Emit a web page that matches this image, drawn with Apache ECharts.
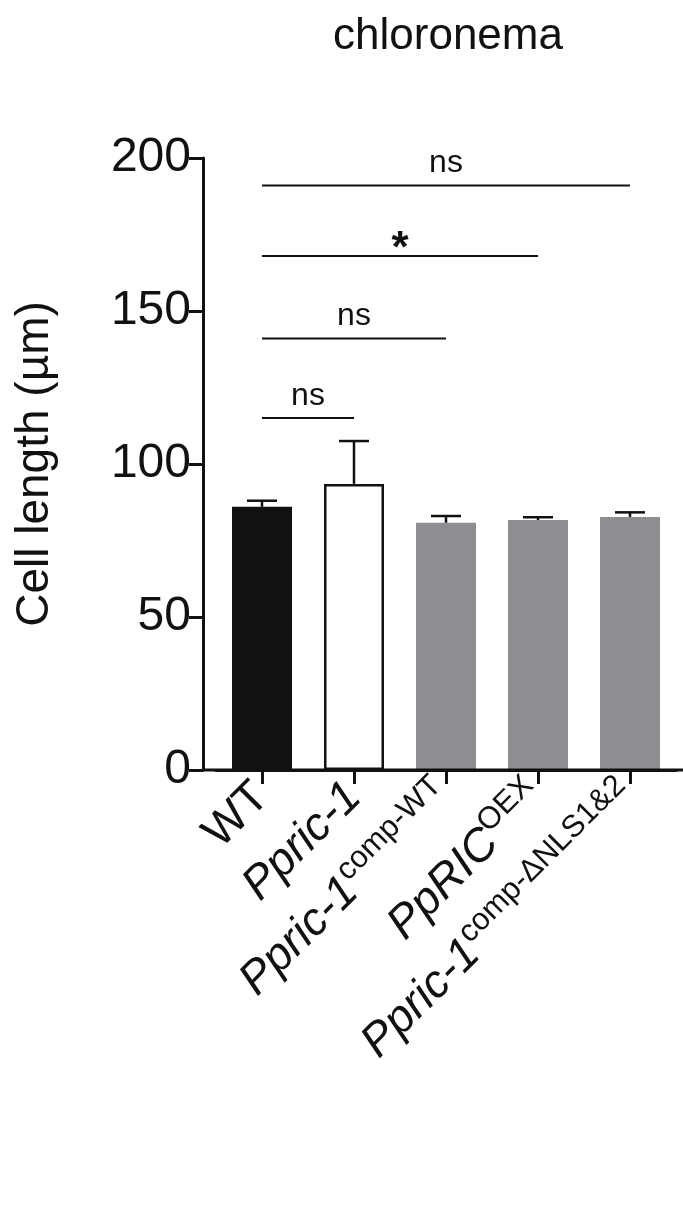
<!DOCTYPE html>
<html>
<head>
<meta charset="utf-8">
<script src="https://cdn.jsdelivr.net/npm/echarts@6/dist/echarts.min.js"></script>
<style>body{margin:0;background:#fff}#main{width:683px;height:1209px}</style>
</head>
<body>
<div id="main"></div>
<script>
var categories = ['WT', 'Ppric-1', 'Ppric-1 comp-WT', 'PpRIC OEX', 'Ppric-1 comp-ΔNLS1&2'];
var labelRich = ['WT', '{i|Ppric-1}', '{i|Ppric-1}{s|comp-WT}', '{i|PpRIC}{s|OEX}', '{i|Ppric-1}{s|comp-ΔNLS1&2}'];
var means = [86, 93.5, 80.8, 81.7, 82.7];
var errTop = [88, 107.5, 83, 82.6, 84.2];
var barColors = ['#111111', '#ffffff', '#8e8e92', '#8e8e92', '#8e8e92'];
// significance: [from index, to index, y value, text]
var sigs = [[0, 4, 191, 'ns'], [0, 3, 168, '*'], [0, 2, 141, 'ns'], [0, 1, 115, 'ns']];

var myChart = echarts.init(document.getElementById('main'));
var font = 'Liberation Sans, Arial, sans-serif';

var option = {
  animation: false,
  title: {text: 'chloronema', left: 443, top: 10, textAlign: 'center',
    textStyle: {fontFamily: font, fontSize: 44, fontWeight: 'normal', color: '#111'}},
  grid: {left: 216, width: 460, top: 158, bottom: 439},
  graphic: [{type: 'line', shape: {x1: 203, y1: 770, x2: 683, y2: 770}, style: {stroke: '#111', lineWidth: 3}, z: 10}],
  xAxis: {
    type: 'category', data: categories,
    axisLine: {lineStyle: {color: '#111', width: 3}},
    axisTick: {show: true, alignWithLabel: true, length: 14, lineStyle: {color: '#111', width: 3}},
    axisLabel: {
      interval: 0, rotate: 45, margin: 20, color: '#111',
      fontFamily: font, fontSize: 46,
      formatter: function (v, i) { return labelRich[i]; },
      rich: {
        i: {fontFamily: font, fontSize: 46, fontStyle: 'italic', color: '#111'},
        s: {fontFamily: font, fontSize: 31, color: '#111', padding: [0, 0, 26, 0]}
      }
    }
  },
  yAxis: {
    type: 'value', min: 0, max: 200, interval: 50, offset: 13,
    name: 'Cell length (µm)', nameLocation: 'middle', nameGap: 145,
    nameTextStyle: {fontFamily: font, fontSize: 46, color: '#111'},
    axisLine: {show: true, lineStyle: {color: '#111', width: 3}},
    axisTick: {show: true, length: 14, lineStyle: {color: '#111', width: 3}},
    axisLabel: {fontFamily: font, fontSize: 48, color: '#111', margin: 12},
    splitLine: {show: false}
  },
  series: [
    {
      type: 'bar', barWidth: 60,
      data: means.map(function (v, i) {
        return {value: v, itemStyle: {color: barColors[i], borderColor: i === 1 ? '#111' : barColors[i], borderWidth: i === 1 ? 2.5 : 0}};
      }),
      z: 2
    },
    {
      type: 'custom', z: 3,
      data: errTop.map(function (v, i) { return [i, means[i], v]; }),
      renderItem: function (params, api) {
        var b = api.coord([api.value(0), api.value(1)]);
        var t = api.coord([api.value(0), api.value(2)]);
        var st = {stroke: '#111', lineWidth: 2.5};
        return {type: 'group', children: [
          {type: 'line', shape: {x1: b[0], y1: b[1], x2: t[0], y2: t[1]}, style: st},
          {type: 'line', shape: {x1: t[0] - 15, y1: t[1], x2: t[0] + 15, y2: t[1]}, style: st}
        ]};
      }
    },
    {
      type: 'custom', z: 3,
      data: sigs,
      renderItem: function (params, api) {
        var s = sigs[params.dataIndex];
        var a = api.coord([s[0], s[2]]);
        var b = api.coord([s[1], s[2]]);
        return {type: 'group', children: [
          {type: 'line', shape: {x1: a[0], y1: a[1], x2: b[0], y2: b[1]}, style: {stroke: '#111', lineWidth: 2}},
          {type: 'text', x: (a[0] + b[0]) / 2, y: a[1] - 6, style: {
            text: s[3], fill: '#111', fontFamily: font,
            fontSize: s[3] === '*' ? 44 : 32, fontWeight: s[3] === '*' ? 'bold' : 'normal',
            align: 'center', verticalAlign: s[3] === '*' ? 'middle' : 'bottom'
          }}
        ]};
      }
    }
  ]
};
myChart.setOption(option);
</script>
</body>
</html>
